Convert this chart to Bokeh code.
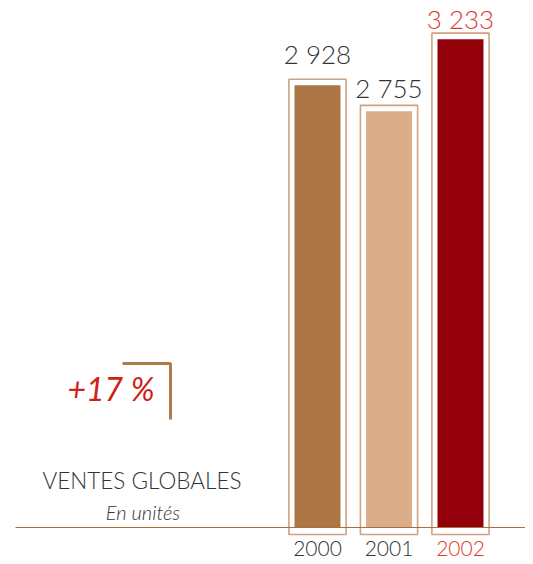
from bokeh.plotting import figure
from bokeh.models import Range1d, Label, ColumnDataSource
from bokeh.core.properties import value
from bokeh.embed import file_html
from bokeh.resources import INLINE

years = ["2000", "2001", "2002"]
sales = [2928, 2755, 3233]
label_texts = ["2 928", "2 755", "3 233"]
bar_colors = ["#ab7544", "#dbae89", "#93000a"]
text_colors = ["#333333", "#333333", "#e0392b"]
growth = "+17 %"
title = "VENTES GLOBALES"
subtitle = "En unités"

# layout (pixels)
W, H = 525, 560
ppx = 6.62            # data units per pixel vertically
base_px = 527         # baseline position from top
step_px, first_px = 71.5, 317
label_gap_px = [31, 23, 20]   # bar top to label centre

xs = list(range(len(years)))
src = ColumnDataSource(dict(
    x=xs, sales=sales, lab=label_texts, year=years,
    color=bar_colors, tcolor=text_colors,
    oleft=[x - 0.40 for x in xs], oright=[x + 0.40 for x in xs],
    otop=[v + 6 * ppx for v in sales],
    ltop=[v + g * ppx for v, g in zip(sales, label_gap_px)],
))

def px_x(xp):
    return (xp - first_px) / step_px

def px_y(yp):
    return (base_px - yp) * ppx

p = figure(width=W, height=H, output_backend="svg", toolbar_location=None,
           x_range=Range1d(px_x(0), px_x(W)), y_range=Range1d(px_y(H), px_y(0)),
           min_border=0)
p.axis.visible = False
p.grid.visible = False
p.outline_line_color = None
p.background_fill_color = None

font = value("Lato Light")

# outline frames
p.quad(left="oleft", right="oright", bottom=-7 * ppx, top="otop", source=src,
       fill_color=None, line_color="#cda383", line_width=1.6)
# bars
p.vbar(x="x", top="sales", bottom=0, width=0.643, source=src,
       fill_color="color", line_color=None)
# baseline
p.segment(x0=[px_x(15)], x1=[px_x(525)], y0=[0], y1=[0], line_color="#a8703f", line_width=1.2)

# value labels
p.text(x="x", y="ltop", text="lab", source=src, text_align="center",
       text_baseline="middle", text_font=font, text_font_size="26px",
       text_color="tcolor")
# year labels
p.text(x="x", y=px_y(548), text="year", source=src, text_align="center",
       text_baseline="middle", text_font=font, text_font_size="21px",
       text_color="tcolor")

# bracket
p.line(x=[px_x(122), px_x(170), px_x(170)],
       y=[px_y(363), px_y(363), px_y(419)],
       line_color="#b07a4f", line_width=3)

p.add_layout(Label(x=67, y=H - 388, x_units="screen", y_units="screen",
                   text=growth, text_font="Lato", text_font_style="italic",
                   text_font_size="32px", text_color="#cc2216", text_baseline="middle"))
p.add_layout(Label(x=141.5, y=H - 480, x_units="screen", y_units="screen",
                   text=title, text_align="center", text_font="Lato Light",
                   text_font_size="22.5px", text_color="#333333", text_baseline="middle"))
p.add_layout(Label(x=142.5, y=H - 511, x_units="screen", y_units="screen",
                   text=subtitle, text_align="center", text_font="Lato Light",
                   text_font_style="italic", text_font_size="20px", text_color="#333333",
                   text_baseline="middle"))

open("out.html", "w").write(file_html(p, INLINE))
